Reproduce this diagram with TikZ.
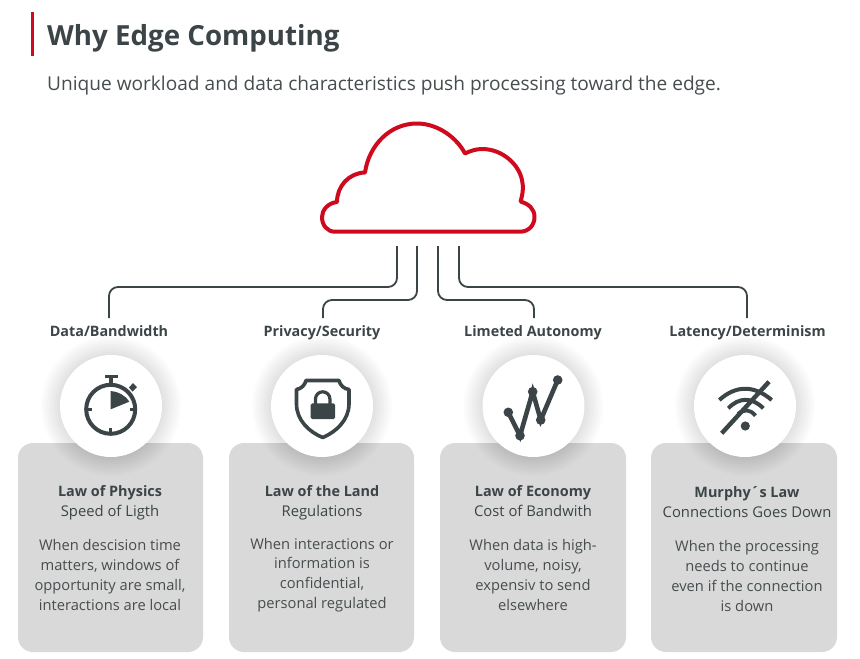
\documentclass[tikz,border=0pt]{standalone}
\usepackage{fontspec}
\setmainfont{Open Sans}
\definecolor{ink}{HTML}{3B4446}
\definecolor{bodyink}{HTML}{474D4F}
\definecolor{brandred}{HTML}{CF0A1E}
\definecolor{cardgray}{HTML}{D9D9D9}
\newcommand{\chead}[1]{{\fontsize{14.4}{19.7}\selectfont\bfseries #1}}
\tikzset{
  conn/.style={draw=ink,line width=1.8pt,rounded corners=9pt},
  card/.style={fill=cardgray,rounded corners=15pt},
  disc/.style={circle,fill=white,minimum size=102pt,inner sep=0pt},
  headlabel/.style={text=ink,font=\fontsize{14.35}{17}\selectfont\bfseries,anchor=base},
  cardhead/.style={text=ink,align=center,font=\fontsize{14.8}{19.7}\selectfont,anchor=base},
  cardbody/.style={text=bodyink,align=center,font=\fontsize{14.7}{19.7}\selectfont,anchor=center},
  icon/.style={draw=ink,line width=4pt,fill=none},
  solid ink/.style={fill=ink,draw=none},
}
\newcommand{\haloat}[2]{%
  \foreach \r in {52,54,...,70}{\fill[black,opacity=0.012] (#1,#2) circle[radius=\r pt];}}
\begin{document}
\begin{tikzpicture}[x=1pt,y=-1pt]
\useasboundingbox (0,0) rectangle (860,659);
\fill[white] (0,0) rectangle (860,659);
% header
\fill[brandred] (31,12) rectangle (34,56);
\node[text=ink,font=\fontsize{27.7}{32}\selectfont\bfseries,anchor=base west,inner sep=0pt] (title) at (47,45) {Why Edge Computing};
\node[text=bodyink,font=\fontsize{19.1}{22}\selectfont,anchor=base west,inner sep=0pt] (sub) at (47,90) {Unique workload and data characteristics push processing toward the edge.};
% cloud
\draw[brandred,line width=4pt,line join=round] (335,231.7) -- (520,231.7)
  .. controls (529,231.7) and (534.5,225) .. (534.5,217)
  .. controls (534.5,209) and (529,204) .. (520.5,201.5)
  .. controls (523,194) and (523.5,186) .. (522,180)
  .. controls (519,165) and (503,149) .. (482,149)
  .. controls (476,149) and (470,151) .. (465,153.5)
  .. controls (457,138) and (438,123.5) .. (417,123.5)
  .. controls (390,123.5) and (369,145) .. (365,172.5)
  .. controls (349,173) and (337,186) .. (337,202)
  .. controls (328,203) and (322,210) .. (322,217)
  .. controls (322,225) and (327,231.7) .. (335,231.7) -- cycle;
% connectors
\coordinate (s1) at (397,246); \coordinate (m1) at (250,287); \coordinate (e1) at (109,318);
\coordinate (s2) at (417,246); \coordinate (m2) at (370,300); \coordinate (e2) at (323,318);
\coordinate (s3) at (438,246); \coordinate (m3) at (486,300); \coordinate (e3) at (534,318);
\coordinate (s4) at (459,246); \coordinate (m4) at (600,287); \coordinate (e4) at (747,318);
\draw[conn] (s1) |- (m1) -| (e1);
\draw[conn] (s2) |- (m2) -| (e2);
\draw[conn] (s3) |- (m3) -| (e3);
\draw[conn] (s4) |- (m4) -| (e4);
% labels
\node[headlabel] (l1) at (109,336) {Data/Bandwidth};
\node[headlabel] (l2) at (322,336) {Privacy/Security};
\node[headlabel] (l3) at (533,336) {Limeted Autonomy};
\node[headlabel] (l4) at (747.5,336) {Latency/Determinism};
% cards
\fill[card] (18,443) rectangle (203,652);
\fill[card] (229,443) rectangle (414,652);
\fill[card] (440,443) rectangle (626,652);
\fill[card] (651,443) rectangle (837,652);
% halos and discs
\haloat{111}{406}\haloat{322}{406}\haloat{533.5}{406}\haloat{745}{406}
\node[disc] (c1) at (111,406) {};
\node[disc] (c2) at (322,406) {};
\node[disc] (c3) at (533.5,406) {};
\node[disc] (c4) at (745,406) {};
% stopwatch
\draw[icon] (110.7,409.3) circle[radius=24.5pt];
\fill[solid ink] (105,374.5) rectangle (118,378);
\fill[solid ink] (109.3,377) rectangle (113,384);
\fill[solid ink] (129,387.5) -- (133,383) -- (137,387) -- (132.5,391.5) -- cycle;
\fill[solid ink] (110.7,409.3) -- (110.7,391) .. controls (118,391.5) and (125,395) .. (129.3,401.7) -- cycle;
\fill[solid ink] (88,408) rectangle (92,411);
\fill[solid ink] (129.5,408) rectangle (133,411);
\fill[solid ink] (109.2,428) rectangle (112.2,432);
% shield
\draw[icon,line width=3.6pt,line join=round] (306,380.5) -- (339,380.5) .. controls (340,385) and (344,389) .. (349,389.5)
  -- (349,404) .. controls (349,420) and (336,432) .. (322.7,437.5)
  .. controls (309,432) and (296.5,420) .. (296.5,404) -- (296.5,389.5)
  .. controls (301,389) and (305,385) .. (306,380.5) -- cycle;
\fill[solid ink,rounded corners=1.5pt] (310.7,403.3) rectangle (335,419);
\draw[icon,line width=3.2pt] (315.5,404) -- (315.5,399) arc[start angle=180,end angle=0,radius=7.2pt] -- (329.9,404);
% chart
\draw[icon,line width=4.6pt] (508.3,412.3) -- (520,435.7) -- (532.7,391.7) -- (540.7,420) -- (557.7,380);
\foreach \p in {(508.3,412.3),(520,435.7),(532.7,391.7),(540.7,420),(557.7,380)}{\fill[solid ink] \p circle[radius=4.8pt];}
% wifi off
\fill[solid ink] (745.3,426) circle[radius=4.6pt];
\draw[icon,line width=4.4pt] (721.7,433.3) -- (769,381.7);
\draw[icon,line width=4pt] (719.3,400) .. controls (736,385) and (754,385) .. (771.7,400);
\draw[icon,line width=4pt] (728.3,408.3) .. controls (739,397) and (752,397) .. (763.3,408.3);
\draw[icon,line width=3.8pt] (738,414) .. controls (744,409) and (750,409) .. (755.5,415.7);
% card text
\node[cardhead] (t1) at (110,516) {\chead{Law of Physics}\\Speed of Ligth};
\node[cardhead] (t2) at (322,516) {\chead{Law of the Land}\\Regulations};
\node[cardhead] (t3) at (533,516) {\chead{Law of Economy}\\Cost of Bandwith};
\node[cardhead] (t4) at (747,517) {\chead{Murphy´s Law}\\Connections Goes Down};
\node[cardbody] (b1) at (110,575) {When descision time\\matters, windows of\\opportunity are small,\\interactions are local};
\node[cardbody] (b2) at (322,575) {When interactions or\\information is\\confidential,\\personal regulated};
\node[cardbody] (b3) at (533,575) {When data is high-\\volume, noisy,\\expensiv to send\\elsewhere};
\node[cardbody] (b4) at (747,576) {When the processing\\needs to continue\\even if the connection\\is down};
\end{tikzpicture}
\end{document}
